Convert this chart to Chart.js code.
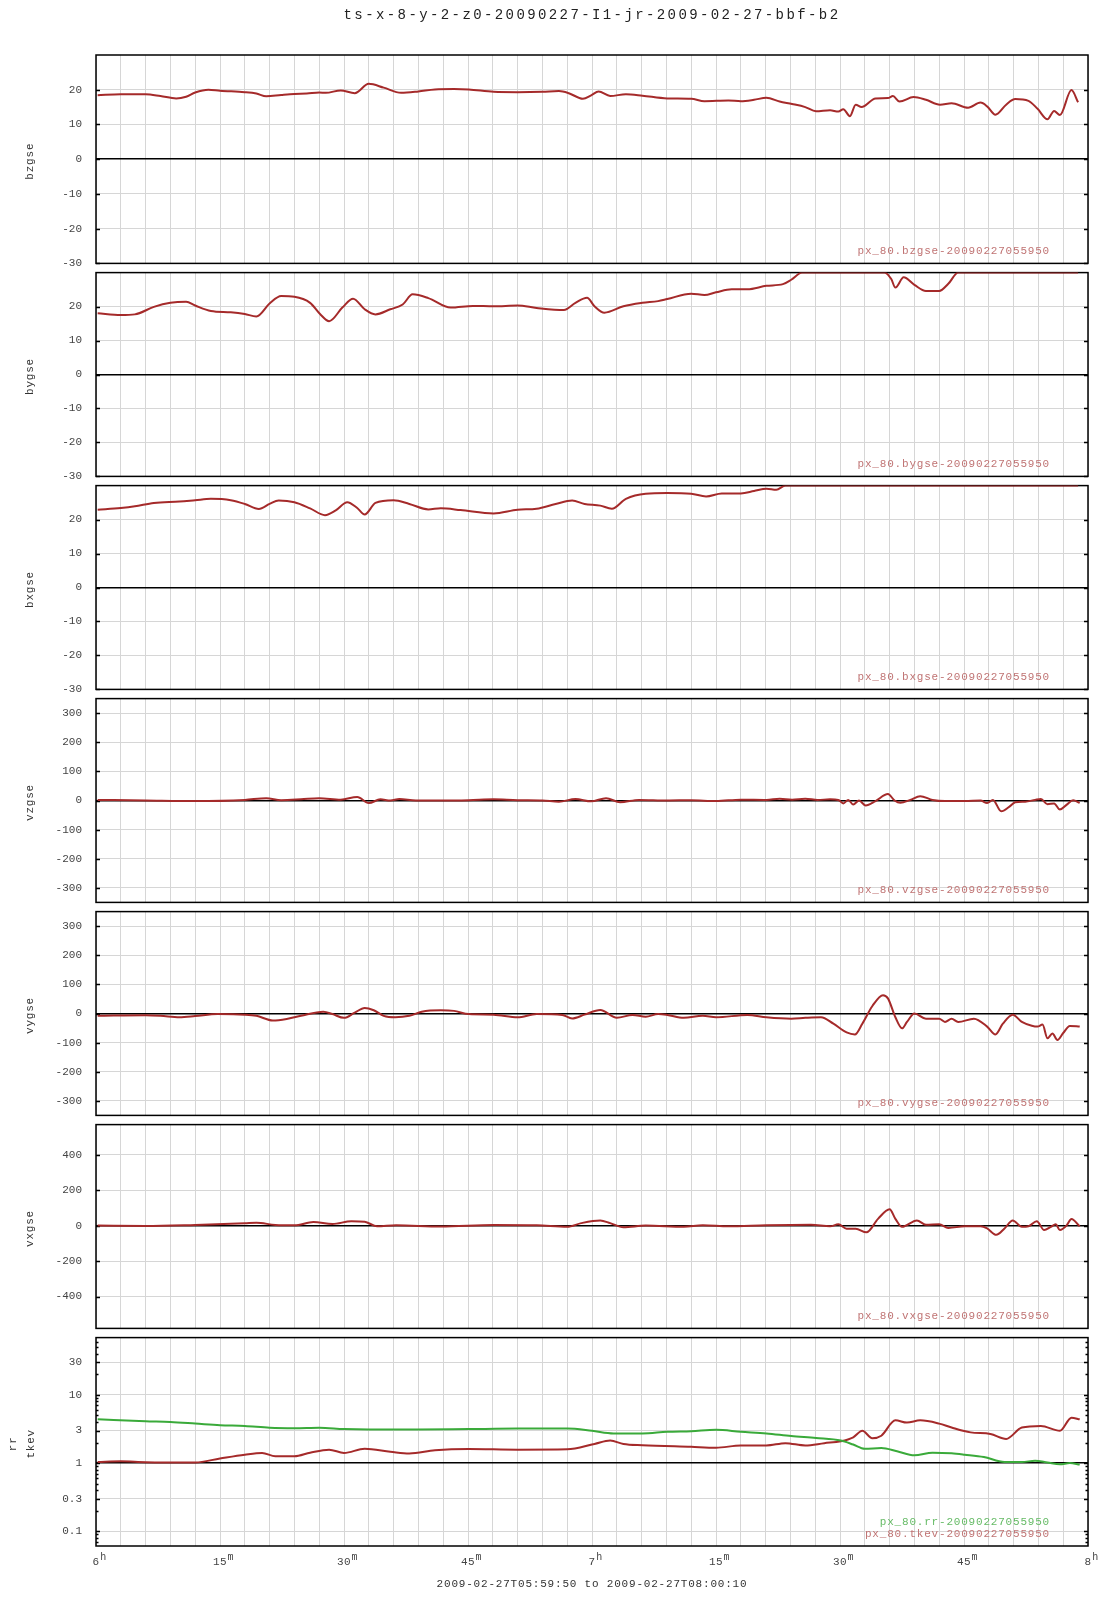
<!DOCTYPE html>
<html>
<head>
<meta charset="utf-8">
<script src="https://cdn.jsdelivr.net/npm/chart.js@4.4.1/dist/chart.umd.min.js"></script>
<style>
    body { margin: 0; background: #fff; }
    #wrap { position: relative; width: 1107px; height: 1600px; }
    #wrap canvas { position: absolute; left: 0; }
</style>
</head>
<body>
<div id="wrap"></div>
<script>
// Time in minutes after 06:00 UT
const bzT = [0.2,3.0,6.0,7.8,9.7,10.9,12.0,13.6,15.0,18.0,19.4,20.6,22.4,24.0,25.5,27.0,27.8,29.6,31.3,33.0,34.8,36.9,39.0,41.0,43.3,45.1,48.1,51.0,54.0,56.0,57.2,58.9,59.9,60.8,62.2,64.1,66.1,69.1,72.0,73.6,76.5,78.0,79.6,81.1,82.7,84.2,85.8,87.1,88.8,89.8,90.4,91.2,91.9,92.6,94.3,95.8,96.4,97.2,98.9,100.4,102.1,103.5,105.5,107.0,107.8,108.8,110.1,111.2,112.8,113.9,115.1,115.9,116.6,118.0,118.8];
const bzV = [18.4,18.7,18.7,18.2,17.5,18.0,19.2,20.0,19.7,19.3,18.9,18.1,18.5,18.8,18.9,19.2,19.1,19.8,19.0,21.7,20.6,19.1,19.5,20.1,20.2,20.1,19.4,19.3,19.4,19.6,19.0,17.4,18.4,19.5,18.2,18.7,18.3,17.5,17.4,16.7,16.9,16.7,17.1,17.7,16.6,15.9,15.0,13.8,14.1,13.7,14.4,12.4,15.7,15.0,17.5,17.6,18.2,16.6,17.9,17.1,15.7,16.1,14.8,16.3,15.2,12.8,15.7,17.3,16.8,14.5,11.5,13.9,12.7,19.9,16.4];

const byT = [0.2,3.0,4.7,7.0,9.0,10.9,12.0,13.9,16.3,18.0,19.4,21.0,22.4,24.0,25.9,27.1,28.2,29.8,31.1,32.5,33.8,35.6,37.1,38.3,40.2,42.9,45.6,48.1,51.0,53.3,56.6,58.0,59.4,60.3,61.5,63.8,66.1,68.0,69.1,72.0,73.6,75.0,76.9,78.8,81.1,83.1,84.1,85.4,95.4,96.2,96.7,97.7,99.0,100.4,102.0,103.1,104.3,118.8];
const byV = [18.0,17.5,17.7,19.9,21.1,21.4,20.3,18.7,18.3,17.8,17.1,20.9,23.1,22.9,21.1,17.8,15.7,19.7,22.3,19.2,17.7,19.2,20.6,23.6,22.5,19.7,20.2,20.1,20.3,19.6,19.0,21.1,22.6,20.1,18.2,20.1,21.1,21.6,22.2,23.8,23.4,24.2,25.1,25.1,26.1,26.6,27.9,30,30,28.1,25.6,28.6,26.4,24.6,24.6,26.7,30,30];

const bxT = [0.2,3.0,4.7,7.0,10.1,12.0,13.9,16.3,18.0,19.7,21.0,22.1,24.0,25.9,27.7,29.0,30.4,31.6,32.5,33.8,36.0,37.9,40.2,41.7,44.1,48.1,51.0,53.3,55.6,57.6,59.1,61.0,62.4,64.1,66.5,69.1,72.0,73.8,75.7,78.0,79.6,81.1,82.3,83.4,118.8];
const bxV = [22.9,23.4,23.9,24.9,25.3,25.7,26.1,25.7,24.6,23.1,24.6,25.6,25.1,23.3,21.3,22.7,25.1,23.4,21.5,24.9,25.7,24.6,23.0,23.3,22.8,21.8,22.9,23.2,24.6,25.6,24.6,24.1,23.2,26.1,27.6,27.8,27.6,26.8,27.7,27.7,28.4,29.1,28.8,30,30];

const vzT = [0.2,6.0,12.0,18.0,20.6,22.4,24.8,27.0,29.6,31.6,33.0,34.4,35.6,36.7,38.7,41.0,45.1,48.1,51.0,54.0,56.0,58.0,59.9,61.7,63.4,65.7,69.1,72.0,75.0,78.0,81.1,82.7,84.2,85.8,87.3,88.8,89.8,90.4,91.0,91.6,92.3,93.1,94.3,95.8,96.6,97.3,98.5,99.7,101.2,102.7,105.1,107.0,107.8,108.5,109.5,110.5,111.2,112.4,113.6,114.3,115.1,115.9,116.6,117.4,118.2,119.0];
const vzV = [2,0,-2,2,8,1,4,8,3,12,-9,4,0,5,0,0,1,4,1,0,-4,5,-3,8,-6,2,0,1,-2,3,2,6,3,6,2,4,2,-10,2,-14,0,-17,-2,22,0,-8,2,15,2,-2,-2,0,-9,2,-37,-21,-6,-4,2,5,-13,-10,-31,-15,1,-8];

const vyT = [0.2,6.0,7.8,10.1,12.0,14.7,18.0,19.4,21.4,23.2,24.8,27.5,28.6,30.0,31.3,32.5,33.6,34.8,36.2,37.9,39.4,41.7,43.3,45.1,48.1,51.0,53.3,56.4,57.6,59.1,61.0,63.0,64.9,66.5,68.0,69.1,71.1,73.4,75.0,78.8,81.1,84.1,85.8,87.7,89.2,90.8,91.8,92.7,93.9,95.2,95.8,96.7,97.5,98.1,99.0,100.4,102.0,102.7,103.5,104.3,106.2,107.8,108.8,109.7,110.9,112.0,113.2,113.9,114.5,115.1,115.7,116.3,117.0,117.8,119.0];
const vyV = [-8,-6,-8,-13,-9,-2,-4,-8,-24,-18,-8,6,-2,-15,3,19,11,-8,-13,-8,6,11,9,-2,-4,-13,-2,-5,-17,-4,12,-15,-5,-11,-2,-5,-15,-8,-13,-5,-13,-18,-15,-13,-35,-65,-72,-35,25,63,52,-13,-51,-29,0,-18,-18,-29,-18,-29,-18,-45,-72,-35,-4,-29,-42,-45,-38,-85,-69,-91,-67,-43,-45];

const vxT = [0.2,6.0,12.0,18.0,19.4,21.7,24.0,26.3,28.6,30.9,32.5,34.0,36.3,41.7,48.1,53.3,57.0,58.7,61.0,62.2,63.8,66.5,71.1,73.4,76.5,81.1,86.5,88.8,89.8,90.8,91.9,93.2,94.6,96.0,96.7,97.5,99.3,100.4,102.0,103.1,105.1,107.0,107.8,108.9,109.9,110.9,112.0,112.8,113.8,114.7,115.5,116.1,116.6,117.4,118.0,119.0];
const vxV = [0,-2,4,13,16,4,2,20,9,25,22,-4,2,-5,4,2,-7,14,29,14,-9,0,-7,2,-4,2,5,-4,7,-18,-18,-38,38,92,38,-7,29,5,7,-13,-4,-4,-16,-52,-16,29,-7,-4,25,-25,-7,7,-25,0,38,-4];

const rrT = [0.2,6.0,9.0,12.0,15.0,18.0,21.0,24.0,27.0,30.0,33.0,39.0,45.1,51.0,57.0,60.0,62.6,66.1,69.1,72.0,75.0,78.0,81.1,84.1,87.1,90.1,91.6,93.0,95.0,96.9,99.0,101.2,103.5,105.1,107.4,109.9,112.0,113.6,115.1,116.6,117.8,119.0];
const rrV = [4.38,4.1,4.0,3.8,3.6,3.5,3.3,3.25,3.3,3.15,3.1,3.1,3.15,3.2,3.2,2.97,2.72,2.72,2.88,2.94,3.07,2.88,2.72,2.49,2.33,2.14,1.87,1.62,1.66,1.49,1.30,1.42,1.39,1.33,1.23,1.04,1.04,1.08,1.02,0.96,1.0,0.95];

const tkT = [0.2,3.0,6.0,12.0,15.0,18.0,20.1,21.7,24.0,25.9,28.2,30.0,32.5,35.6,37.9,41.0,45.1,51.0,57.0,60.3,62.2,63.8,66.1,72.0,75.0,78.0,81.1,83.4,85.8,88.1,90.1,91.6,92.7,93.9,95.0,96.7,98.1,99.7,102.0,103.5,105.8,108.2,110.1,112.0,114.3,116.6,118.0,119.0];
const tkV = [1.04,1.06,1.03,1.02,1.17,1.33,1.41,1.26,1.26,1.42,1.57,1.41,1.62,1.47,1.38,1.54,1.61,1.57,1.59,1.91,2.14,1.91,1.83,1.73,1.68,1.81,1.81,1.96,1.81,1.96,2.09,2.39,2.98,2.31,2.52,4.23,3.92,4.23,3.79,3.32,2.82,2.67,2.26,3.32,3.51,2.98,4.62,4.38];

// tick labels
const bTicks = [20, 10, 0, -10, -20, -30];
const vTicks = [300, 200, 100, 0, -100, -200, -300];
const vxTicks = [400, 200, 0, -200, -400];
const logTicks = [30, 10, 3, 1, 0.3, 0.1];
const xTickMin = [0, 15, 30, 45, 60, 75, 90, 105, 120];
const xTickMain = ['6', '15', '30', '45', '7', '15', '30', '45', '8'];
const xTickSup = ['h', 'm', 'm', 'm', 'h', 'm', 'm', 'm', 'h'];

const TITLE = 'ts-x-8-y-2-z0-20090227-I1-jr-2009-02-27-bbf-b2';
const RANGE = '2009-02-27T05:59:50 to 2009-02-27T08:00:10';

const RED = '#a52a2a';
const GREEN = '#3aaa3a';
const RED_TXT = '#c07474';
const GREEN_TXT = '#66bb66';
const GRID = '#d6d6d6';
const MONO = '"Liberation Mono", "DejaVu Sans Mono", monospace';

const W = 1107, H = 1600;
const TOP = 55, PH = 213, LEFT = 96, RIGHT = 1088, PAD = 16;

const panels = [
    { label: ['bzgse'], ticks: bTicks, min: -30, max: 30, zero: 0,
      series: [{ t: bzT, v: bzV, color: RED, name: 'px_80.bzgse-20090227055950', txt: RED_TXT }] },
    { label: ['bygse'], ticks: bTicks, min: -30, max: 30, zero: 0,
      series: [{ t: byT, v: byV, color: RED, name: 'px_80.bygse-20090227055950', txt: RED_TXT }] },
    { label: ['bxgse'], ticks: bTicks, min: -30, max: 30, zero: 0,
      series: [{ t: bxT, v: bxV, color: RED, name: 'px_80.bxgse-20090227055950', txt: RED_TXT }] },
    { label: ['vzgse'], ticks: vTicks, min: -350, max: 350, zero: 0,
      series: [{ t: vzT, v: vzV, color: RED, name: 'px_80.vzgse-20090227055950', txt: RED_TXT }] },
    { label: ['vygse'], ticks: vTicks, min: -350, max: 350, zero: 0,
      series: [{ t: vyT, v: vyV, color: RED, name: 'px_80.vygse-20090227055950', txt: RED_TXT }] },
    { label: ['vxgse'], ticks: vxTicks, min: -580, max: 570, zero: 0,
      series: [{ t: vxT, v: vxV, color: RED, name: 'px_80.vxgse-20090227055950', txt: RED_TXT }] },
    { label: ['rr', 'tkev'], ticks: logTicks, min: 0.061, max: 69, zero: 1, log: true,
      series: [{ t: rrT, v: rrV, color: GREEN, name: 'px_80.rr-20090227055950', txt: GREEN_TXT },
               { t: tkT, v: tkV, color: RED, name: 'px_80.tkev-20090227055950', txt: RED_TXT }] }
];

function spacedText(ctx, text, x, y, size, spacing, align, color) {
    ctx.font = size + 'px ' + MONO;
    ctx.fillStyle = color;
    ctx.letterSpacing = spacing + 'px';
    let w = ctx.measureText(text).width;
    let sx = x;
    if (align === 'center') sx = x - w / 2;
    if (align === 'right') sx = x - w;
    ctx.textAlign = 'left';
    ctx.textBaseline = 'middle';
    ctx.fillText(text, sx, y);
    ctx.letterSpacing = '0px';
}

const wrap = document.getElementById('wrap');

panels.forEach((p, i) => {
    const first = i === 0;
    const last = i === panels.length - 1;
    const areaTop = TOP + i * PH;
    const areaBottom = areaTop + PH;
    const cTop = first ? 0 : areaTop - PAD;
    const cBottom = last ? H : areaBottom + PAD;

    const cv = document.createElement('canvas');
    cv.width = W;
    cv.height = cBottom - cTop;
    cv.style.top = cTop + 'px';
    wrap.appendChild(cv);

    // borders, inner tick marks and all the texts of one panel
    const deco = {
        id: 'deco',
        beforeDatasetsDraw(chart) {
            const { ctx, chartArea: a } = chart;
            const ys = chart.scales.y;
            ctx.save();
            ctx.strokeStyle = '#000';
            ctx.lineWidth = 1.5;
            let minor = [];
            if (p.log) {
                [0.01, 0.1, 1, 10].forEach(d => {
                    for (let k = 2; k <= 9; k++) minor.push(k * d);
                });
                minor = minor.filter(v => v > p.min && v < p.max);
            }
            ctx.beginPath();
            p.ticks.forEach(v => {
                const y = Math.round(ys.getPixelForValue(v)) + 0.5;
                ctx.moveTo(a.left, y); ctx.lineTo(a.left + 4, y);
                ctx.moveTo(a.right - 4, y); ctx.lineTo(a.right, y);
            });
            minor.forEach(v => {
                const y = Math.round(ys.getPixelForValue(v)) + 0.5;
                ctx.moveTo(a.left, y); ctx.lineTo(a.left + 2.5, y);
                ctx.moveTo(a.right - 2.5, y); ctx.lineTo(a.right, y);
            });
            ctx.stroke();
            ctx.lineWidth = 1.5;
            ctx.strokeRect(a.left, a.top, a.right - a.left, a.bottom - a.top);
            ctx.restore();
        },
        afterDraw(chart) {
            const { ctx, chartArea: a } = chart;
            ctx.save();
            const mid = (a.top + a.bottom) / 2;
            const lx = p.label.length === 1 ? [30] : [13, 31];
            p.label.forEach((t, k) => {
                ctx.save();
                ctx.translate(lx[k], mid + 2);
                ctx.rotate(-Math.PI / 2);
                spacedText(ctx, t, 0, 0, 11, 0.8, 'center', '#333');
                ctx.restore();
            });
            const n = p.series.length;
            p.series.forEach((s, k) => {
                spacedText(ctx, s.name, 1050, a.bottom - 12 - (n - 1 - k) * 12, 11, 0.8, 'right', s.txt);
            });
            if (first) {
                spacedText(ctx, TITLE, (LEFT + RIGHT) / 2, 15, 14, 2.4, 'center', '#222');
            }
            if (last) {
                const xs = chart.scales.x;
                xTickMin.forEach((m, k) => {
                    const x = xs.getPixelForValue(m);
                    const yy = a.bottom + 16;
                    spacedText(ctx, xTickMain[k], x, yy, 11, 0.3, 'center', '#444');
                    ctx.font = '11px ' + MONO;
                    const w = ctx.measureText(xTickMain[k]).width;
                    spacedText(ctx, xTickSup[k], x + w / 2 + 1, yy - 5, 10, 0, 'left', '#444');
                });
                spacedText(ctx, RANGE, (LEFT + RIGHT) / 2, a.bottom + 38, 11, 0.8, 'center', '#333');
            }
            ctx.restore();
        }
    };

    new Chart(cv, {
        type: 'line',
        data: {
            datasets: p.series.map(s => ({
                data: s.t.map((t, k) => ({ x: t, y: s.v[k] })),
                borderColor: s.color,
                borderWidth: 2,
                pointRadius: 0,
                fill: false,
                cubicInterpolationMode: 'monotone'
            }))
        },
        options: {
            responsive: false,
            animation: false,
            devicePixelRatio: 1,
            layout: {
                padding: { left: 0, right: W - RIGHT, top: areaTop - cTop, bottom: cBottom - areaBottom }
            },
            plugins: {
                legend: { display: false },
                tooltip: { enabled: false },
                title: { display: false }
            },
            scales: {
                x: {
                    type: 'linear',
                    min: 0,
                    max: 120,
                    ticks: { display: false, stepSize: 3 },
                    grid: { color: GRID, drawTicks: false, lineWidth: 1 },
                    border: { display: false },
                    afterFit: s => { s.height = 0; }
                },
                y: {
                    type: p.log ? 'logarithmic' : 'linear',
                    min: p.min,
                    max: p.max,
                    afterBuildTicks: s => { s.ticks = p.ticks.map(v => ({ value: v })); },
                    afterFit: s => { s.width = LEFT; },
                    ticks: {
                        font: { family: MONO, size: 11 },
                        color: '#444',
                        padding: 14,
                        autoSkip: false,
                        callback: v => String(v)
                    },
                    grid: {
                        drawTicks: false,
                        color: c => (c.tick && c.tick.value === p.zero) ? '#000' : GRID,
                        lineWidth: c => (c.tick && c.tick.value === p.zero) ? 1.5 : 1
                    },
                    border: { display: false }
                }
            }
        },
        plugins: [deco]
    });
});
</script>
</body>
</html>
